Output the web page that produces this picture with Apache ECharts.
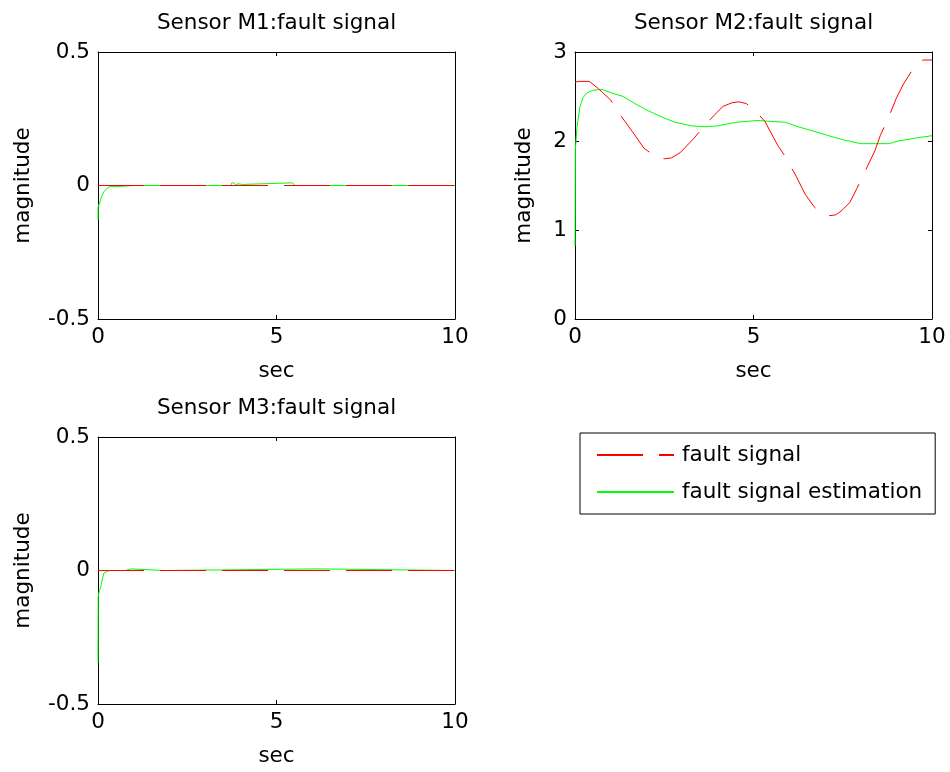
<!DOCTYPE html>
<html>
<head>
<meta charset="utf-8">
<script src="https://cdn.jsdelivr.net/npm/echarts@6/dist/echarts.min.js"></script>
<style>
  html, body { margin: 0; padding: 0; background: #ffffff; }
  #chart { width: 950px; height: 772px; }
</style>
</head>
<body>
<div id="chart"></div>
<script>
// Time axis (sec) and signals for each sensor
const seriesNames = ['fault signal', 'fault signal estimation'];
const panelTitles = ['Sensor M1:fault signal', 'Sensor M2:fault signal', 'Sensor M3:fault signal'];
const xTicks = [0, 5, 10];
const yTicksM1 = [-0.5, 0, 0.5];
const yTicksM2 = [0, 1, 2, 3];
const yTicksM3 = [-0.5, 0, 0.5];

// Sensor M1
const m1FaultT = [0, 10];
const m1FaultV = [0, 0];
const m1EstT = [0, 0.003, 0.06, 0.1, 0.17, 0.25, 0.33, 0.52, 0.57, 1, 2, 3, 3.72, 3.76, 3.8, 3.85, 3.95, 4.05, 4.1, 5.45, 5.52, 6, 7, 8, 9, 10];
const m1EstV = [-0.13, -0.08, -0.06, -0.04, -0.023, -0.011, -0.004, -0.004, 0, 0, 0, 0, 0, 0.012, 0.008, 0.004, 0.006, 0.004, 0.01, 0.01, 0, 0, 0, 0, 0, 0];

// Sensor M2
const m2FaultT = [0, 0.1, 0.4, 0.65, 1.0, 1.2, 1.6, 1.93, 2.27, 2.5, 2.7, 2.95, 3.33, 3.6, 3.9, 4.15, 4.4, 4.6, 4.8, 5.0, 5.32, 5.68, 5.9, 6.2, 6.45, 6.7, 6.9, 7.1, 7.3, 7.45, 7.7, 7.9, 8.15, 8.4, 8.55, 8.8, 9.0, 9.2, 9.5, 9.75, 10];
const m2FaultV = [2.66, 2.67, 2.67, 2.59, 2.46, 2.33, 2.11, 1.92, 1.82, 1.80, 1.81, 1.87, 2.03, 2.16, 2.29, 2.39, 2.43, 2.44, 2.42, 2.36, 2.22, 1.95, 1.82, 1.60, 1.40, 1.26, 1.19, 1.16, 1.17, 1.21, 1.31, 1.47, 1.68, 1.89, 2.06, 2.28, 2.48, 2.64, 2.83, 2.91, 2.91];
const m2EstT = [0, 0.01, 0.05, 0.14, 0.23, 0.33, 0.5, 0.75, 1.03, 1.35, 1.68, 2.05, 2.43, 2.8, 3.27, 3.64, 4.0, 4.5, 5.1, 5.5, 5.9, 6.25, 6.6, 7.1, 7.55, 8.0, 8.8, 9.05, 9.5, 10];
const m2EstV = [0.82, 1.9, 2.13, 2.39, 2.49, 2.54, 2.57, 2.58, 2.54, 2.50, 2.42, 2.34, 2.27, 2.21, 2.17, 2.16, 2.17, 2.21, 2.23, 2.22, 2.21, 2.16, 2.12, 2.06, 2.01, 1.97, 1.97, 2.00, 2.03, 2.06];

// Sensor M3
const m3FaultT = [0, 10];
const m3FaultV = [0, 0];
const m3EstT = [0, 0.005, 0.03, 0.05, 0.08, 0.11, 0.17, 0.28, 0.34, 0.5, 0.76, 0.8, 0.93, 0.97, 1.85, 1.89, 6.17, 6.22, 10];
const m3EstV = [-0.347, -0.10, -0.08, -0.071, -0.06, -0.038, -0.009, -0.002, 0, 0, 0, 0.006, 0.006, 0, 0, 0.006, 0.006, 0, 0];

const FONT = 'DejaVu Sans';
const FS = 21.5;
const RED = '#ff0000';
const GREEN = '#00ff00';
const DASH = [46, 16];

function pairs(t, v) { return t.map((x, i) => [x, v[i]]); }

const grids = [
  { left: 98, top: 52, width: 357, height: 267 },
  { left: 575, top: 52, width: 357, height: 267 },
  { left: 98, top: 437, width: 357, height: 267 }
];
const yTickSets = [yTicksM1, yTicksM2, yTicksM3];
const yNameGaps = [64, 40, 64];

const xAxes = [];
const yAxes = [];
grids.forEach((g, i) => {
  const yt = yTickSets[i];
  const common = {
    gridIndex: i,
    type: 'value',
    splitLine: { show: false },
    axisLine: { show: true, onZero: false, lineStyle: { color: '#000', width: 1 } },
    axisTick: { show: true, inside: true, length: 4, lineStyle: { color: '#000' } }
  };
  // bottom x axis with tick labels and "sec"
  xAxes.push(Object.assign({}, common, {
    position: 'bottom',
    min: xTicks[0], max: xTicks[xTicks.length - 1], interval: xTicks[1] - xTicks[0],
    name: 'sec', nameLocation: 'middle', nameGap: 41,
    nameTextStyle: { fontFamily: FONT, fontSize: FS, color: '#000' },
    axisLabel: { margin: 7, fontFamily: FONT, fontSize: FS, color: '#000' }
  }));
  // top x axis carries the panel title and mirrored ticks
  xAxes.push(Object.assign({}, common, {
    position: 'top',
    min: xTicks[0], max: xTicks[xTicks.length - 1], interval: xTicks[1] - xTicks[0],
    name: panelTitles[i], nameLocation: 'middle', nameGap: 18,
    nameTextStyle: { fontFamily: FONT, fontSize: FS, color: '#000' },
    axisLabel: { show: false }
  }));
  yAxes.push(Object.assign({}, common, {
    position: 'left',
    min: yt[0], max: yt[yt.length - 1], interval: yt[1] - yt[0],
    name: 'magnitude', nameLocation: 'middle', nameRotate: 90, nameGap: yNameGaps[i],
    nameTextStyle: { fontFamily: FONT, fontSize: FS, color: '#000' },
    axisLabel: { margin: 8, fontFamily: FONT, fontSize: FS, color: '#000' }
  }));
  yAxes.push(Object.assign({}, common, {
    position: 'right',
    min: yt[0], max: yt[yt.length - 1], interval: yt[1] - yt[0],
    axisLabel: { show: false }
  }));
});

const panels = [
  [m1EstT, m1EstV, m1FaultT, m1FaultV],
  [m2EstT, m2EstV, m2FaultT, m2FaultV],
  [m3EstT, m3EstV, m3FaultT, m3FaultV]
];
const series = [];
panels.forEach((p, i) => {
  series.push({
    name: seriesNames[1], type: 'line', xAxisIndex: 2 * i, yAxisIndex: 2 * i,
    data: pairs(p[0], p[1]), symbol: 'none', showSymbol: false, silent: true,
    lineStyle: { color: GREEN, width: 1 }, itemStyle: { color: GREEN }
  });
  series.push({
    name: seriesNames[0], type: 'line', xAxisIndex: 2 * i, yAxisIndex: 2 * i,
    data: pairs(p[2], p[3]), symbol: 'none', showSymbol: false, silent: true,
    lineStyle: { color: RED, width: 1, type: DASH }, itemStyle: { color: RED }
  });
});

const chart = echarts.init(document.getElementById('chart'), null, { renderer: 'canvas' });
chart.setOption({
  animation: false,
  backgroundColor: '#ffffff',
  grid: grids,
  xAxis: xAxes,
  yAxis: yAxes,
  legend: {
    data: seriesNames,
    orient: 'vertical',
    left: 580, top: 433,
    padding: [11, 13, 11, 16],
    itemWidth: 77, itemHeight: 14, itemGap: 15,
    borderColor: '#000', borderWidth: 1,
    selectedMode: false,
    itemStyle: { opacity: 0 },
    textStyle: { fontFamily: FONT, fontSize: FS, color: '#000', padding: [0, 0, 0, 3] }
  },
  series: series
});
</script>
</body>
</html>
